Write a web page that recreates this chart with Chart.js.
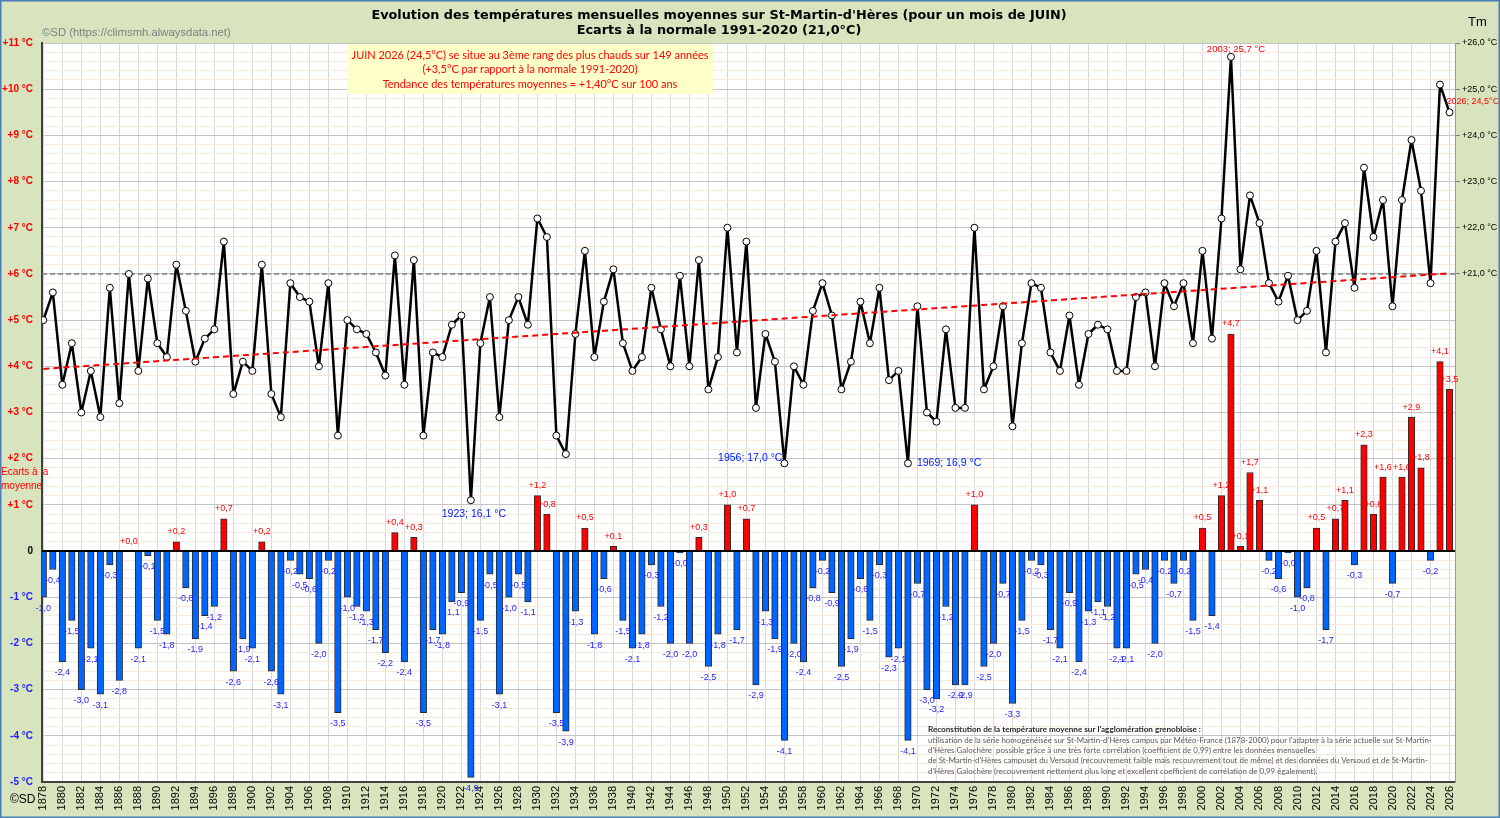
<!DOCTYPE html>
<html lang="fr">
<head>
<meta charset="utf-8">
<title>Températures de juin - St-Martin-d'Hères</title>
<script src="https://cdn.jsdelivr.net/npm/chart.js@4.4.1/dist/chart.umd.min.js"></script>
<style>
  html, body { margin: 0; padding: 0; background: #d7e4bd; }
  #wrap { position: relative; width: 1500px; height: 818px; }
</style>
</head>
<body>
<div id="wrap"><canvas id="chart"></canvas></div>
<script>
// Ecarts à la normale 1991-2020 (21,0 °C), mois de juin, 1878 -> 2026
const FIRST_YEAR = 1878;
const NORMAL = 21.0;
const anomalies = [
  -1.0, -0.4, -2.4, -1.5, -3.0, -2.1, -3.1, -0.3, -2.8,  0.0,   // 1878-1887
  -2.1, -0.1, -1.5, -1.8,  0.2, -0.8, -1.9, -1.4, -1.2,  0.7,   // 1888-1897
  -2.6, -1.9, -2.1,  0.2, -2.6, -3.1, -0.2, -0.5, -0.6, -2.0,   // 1898-1907
  -0.2, -3.5, -1.0, -1.2, -1.3, -1.7, -2.2,  0.4, -2.4,  0.3,   // 1908-1917
  -3.5, -1.7, -1.8, -1.1, -0.9, -4.9, -1.5, -0.5, -3.1, -1.0,   // 1918-1927
  -0.5, -1.1,  1.2,  0.8, -3.5, -3.9, -1.3,  0.5, -1.8, -0.6,   // 1928-1937
   0.1, -1.5, -2.1, -1.8, -0.3, -1.2, -2.0, -0.04, -2.0, 0.3,   // 1938-1947
  -2.5, -1.8,  1.0, -1.7,  0.7, -2.9, -1.3, -1.9, -4.1, -2.0,   // 1948-1957
  -2.4, -0.8, -0.2, -0.9, -2.5, -1.9, -0.6, -1.5, -0.3, -2.3,   // 1958-1967
  -2.1, -4.1, -0.7, -3.0, -3.2, -1.2, -2.9, -2.9,  1.0, -2.5,   // 1968-1977
  -2.0, -0.7, -3.3, -1.5, -0.2, -0.3, -1.7, -2.1, -0.9, -2.4,   // 1978-1987
  -1.3, -1.1, -1.2, -2.1, -2.1, -0.5, -0.4, -2.0, -0.2, -0.7,   // 1988-1997
  -0.2, -1.5,  0.5, -1.4,  1.2,  4.7,  0.1,  1.7,  1.1, -0.2,   // 1998-2007
  -0.6, -0.04, -1.0, -0.8, 0.5, -1.7,  0.7,  1.1, -0.3,  2.3,   // 2008-2017
   0.8,  1.6, -0.7,  1.6,  2.9,  1.8, -0.2,  4.1,  3.5          // 2018-2026
];
const years = anomalies.map((_, i) => FIRST_YEAR + i);
const tm = anomalies.map(a => +(NORMAL + a).toFixed(2));

const highlights = [
  { year: 2003, text: "2003; 25,7 °C", color: "#ff0000", align: "center", dx: 5, dy: -7, size: 9.5 },
  { year: 2026, text: "2026; 24,5°C", color: "#ff0000", align: "left", dx: -3, dy: -11, size: 9 },
  { year: 1923, text: "1923; 16,1 °C", color: "#0020ff", align: "center", dx: 3, dy: 14, size: 10.5 },
  { year: 1956, text: "1956; 17,0 °C", color: "#0020ff", align: "right", dx: -2, dy: -5, size: 10.5 },
  { year: 1969, text: "1969; 16,9 °C", color: "#0020ff", align: "left", dx: 9, dy: 0, size: 10.5 }
];

const titleLines = [
  "Evolution des températures mensuelles moyennes sur St-Martin-d'Hères (pour un mois de JUIN)",
  "Ecarts à la normale 1991-2020 (21,0°C)"
];
const boxLines = [
  "JUIN 2026 (24,5°C) se situe au 3ème rang des plus chauds sur 149 années",
  "(+3,5°C par rapport à la normale 1991-2020)",
  "Tendance des températures moyennes = +1,40°C sur 100 ans"
];
const noteTitle = "Reconstitution de la température moyenne sur l'agglomération grenobloise :";
const noteLines = [
  "utilisation de la série homogénéisée sur St-Martin-d'Hères campus par Météo-France (1878-2000) pour l'adapter à la série actuelle sur St-Martin-",
  "d'Hères Galochère  possible grâce à une très forte corrélation (coefficient de 0,99) entre les données mensuelles",
  "de St-Martin-d'Hères campuset du Versoud (recouvrement faible mais recouvrement tout de même) et des données du Versoud et de St-Martin-",
  "d'Hères Galochère (recouvrement nettement plus long et excellent coefficient de corrélation de 0,99 également)."
];

const RED = "#ff0000", BLUE = "#0066ff", LABEL_BLUE = "#1f1fff";
const X_MIN = 1877.86, X_MAX = 2026.58;

// droite de tendance (moindres carrés sur Tm)
const mx = years.reduce((s, v) => s + v, 0) / years.length;
const my = tm.reduce((s, v) => s + v, 0) / tm.length;
let sxy = 0, sxx = 0;
years.forEach((y, i) => { sxy += (y - mx) * (tm[i] - my); sxx += (y - mx) ** 2; });
const slope = sxy / sxx, icpt = my - slope * mx;
const trend = [years[0], years[years.length - 1]].map(y => ({ x: y, y: icpt + slope * y }));

const fmt = v => (v >= 0 ? "+" : "-") + Math.abs(v).toFixed(1).replace(".", ",");

function fitSize(ctx, text, width, weight, family) {
  ctx.font = `${weight} 20px ${family}`;
  return 20 * width / ctx.measureText(text).width;
}

const decor = {
  id: "decor",
  beforeDraw(chart) {
    const { ctx, chartArea: a } = chart;
    ctx.save();
    ctx.fillStyle = "#d7e4bd";
    ctx.fillRect(0, 0, chart.width, chart.height);
    ctx.fillStyle = "#ffffff";
    ctx.fillRect(a.left, a.top, a.right - a.left, a.bottom - a.top);
    ctx.restore();
  },
  afterDatasetsDraw(chart) {
    const { ctx, chartArea: a, scales } = chart;
    ctx.save();
    // ligne du zéro
    const y0 = scales.y.getPixelForValue(0);
    ctx.strokeStyle = "#000";
    ctx.lineWidth = 2;
    ctx.beginPath(); ctx.moveTo(a.left, y0); ctx.lineTo(a.right, y0); ctx.stroke();

    // étiquettes des barres
    ctx.font = "9px 'Liberation Sans', Arial, sans-serif";
    ctx.textAlign = "center";
    ctx.textBaseline = "middle";
    chart.getDatasetMeta(0).data.forEach((bar, i) => {
      const v = anomalies[i];
      ctx.fillStyle = v >= 0 ? RED : LABEL_BLUE;
      ctx.fillText(fmt(v), bar.x, v >= 0 ? bar.y - 10 : bar.y + 11);
    });

    // records
    highlights.forEach(h => {
      const i = years.indexOf(h.year);
      const x = scales.x.getPixelForValue(h.year);
      const y = scales.y2.getPixelForValue(tm[i]);
      ctx.font = `${h.size}px 'Liberation Sans', Arial, sans-serif`;
      ctx.fillStyle = h.color;
      ctx.textAlign = h.align;
      ctx.fillText(h.text, x + h.dx, y + h.dy);
    });
    ctx.restore();
  },
  afterDraw(chart) {
    const { ctx } = chart;
    ctx.save();
    ctx.textBaseline = "middle";

    // titre
    const tFam = "'DejaVu Sans', sans-serif";
    const tSize = fitSize(ctx, titleLines[0], 696, "bold", tFam);
    ctx.font = `bold ${tSize}px ${tFam}`;
    ctx.fillStyle = "#000";
    ctx.textAlign = "center";
    ctx.fillText(titleLines[0], 719, 16);
    ctx.fillText(titleLines[1], 719, 31);

    // copyright
    const cFam = "'Liberation Sans', Arial, sans-serif";
    ctx.font = `${fitSize(ctx, "©SD (https://climsmh.alwaysdata.net)", 189, "normal", cFam)}px ${cFam}`;
    ctx.fillStyle = "#808080";
    ctx.textAlign = "left";
    ctx.fillText("©SD (https://climsmh.alwaysdata.net)", 42, 33);
    ctx.font = `12px ${cFam}`;
    ctx.fillStyle = "#000";
    ctx.fillText("©SD", 10, 800);
    ctx.font = `13px ${cFam}`;
    ctx.fillText("Tm", 1468, 22);

    // libellé de l'axe gauche
    ctx.font = `10px ${cFam}`;
    ctx.fillStyle = RED;
    ctx.fillText("Ecarts à la", 1, 472);
    ctx.fillText("moyenne", 1, 486);

    // encadré
    ctx.fillStyle = "#ffffc9";
    ctx.fillRect(347, 44, 366, 50);
    const bFam = "Lato, sans-serif";
    ctx.font = `${fitSize(ctx, boxLines[0], 357, "normal", bFam)}px ${bFam}`;
    ctx.fillStyle = RED;
    ctx.textAlign = "center";
    boxLines.forEach((t, k) => ctx.fillText(t, 530, 55 + k * 14.5));

    // note de bas de graphique
    const nFam = "Lato, sans-serif";
    ctx.textAlign = "left";
    ctx.font = `bold ${fitSize(ctx, noteTitle, 273, "bold", nFam)}px ${nFam}`;
    ctx.fillStyle = "#262626";
    ctx.fillText(noteTitle, 928, 729);
    ctx.font = `${fitSize(ctx, noteLines[0], 504, "normal", nFam)}px ${nFam}`;
    ctx.fillStyle = "#595959";
    noteLines.forEach((t, k) => ctx.fillText(t, 928, 740 + k * 10.4));

    // cadre extérieur
    ctx.strokeStyle = "#4a7ebb";
    ctx.lineWidth = 1.5;
    ctx.strokeRect(0.75, 0.75, chart.width - 1.5, chart.height - 1.5);
    ctx.restore();
  }
};

const yTicks = [];
for (let k = -25; k <= 55; k++) yTicks.push({ value: k / 5 });
const xTicks = years.filter(y => y % 2 === 0).map(y => ({ value: y }));
const y2Ticks = [21, 22, 23, 24, 25, 26].map(v => ({ value: v }));

new Chart(document.getElementById("chart"), {
  data: {
    datasets: [
      {
        type: "bar",
        data: years.map((y, i) => ({ x: y, y: anomalies[i] })),
        yAxisID: "y",
        backgroundColor: anomalies.map(a => a >= 0 ? RED : BLUE),
        borderColor: "#2a2a2a",
        borderWidth: 1,
        barThickness: 6.5,
        order: 10
      },
      {
        type: "line",
        data: [{ x: X_MIN, y: NORMAL }, { x: X_MAX, y: NORMAL }],
        yAxisID: "y2",
        borderColor: "#808080",
        borderWidth: 1.5,
        borderDash: [5, 3],
        pointRadius: 0,
        order: 5
      },
      {
        type: "line",
        data: years.map((y, i) => ({ x: y, y: tm[i] })),
        yAxisID: "y2",
        borderColor: "#000",
        borderWidth: 2.5,
        borderJoinStyle: "round",
        borderCapStyle: "round",
        pointRadius: 3.5,
        pointBorderWidth: 1,
        pointBackgroundColor: "#fff",
        pointBorderColor: "#000",
        tension: 0,
        order: 2
      },
      {
        type: "line",
        data: trend,
        yAxisID: "y2",
        borderColor: RED,
        borderWidth: 2,
        borderDash: [6, 4],
        pointRadius: 0,
        order: 1
      }
    ]
  },
  options: {
    responsive: true,
    maintainAspectRatio: false,
    animation: false,
    layout: { padding: { top: 43, left: 0, right: 0, bottom: 0 } },
    plugins: { legend: { display: false }, tooltip: { enabled: false } },
    scales: {
      x: {
        type: "linear",
        position: "bottom",
        offset: false,
        min: X_MIN,
        max: X_MAX,
        afterBuildTicks: s => { s.ticks = xTicks.map(t => ({ ...t })); },
        afterFit: s => { s.height = 36; },
        ticks: {
          autoSkip: false, maxRotation: 90, minRotation: 90, padding: 4,
          color: "#000",
          font: { family: "'Liberation Sans', Arial, sans-serif", size: 11 },
          callback: v => String(v)
        },
        grid: { color: "#d9d9d9", drawTicks: false, offset: false },
        border: { color: "#404040", width: 2 }
      },
      y: {
        position: "left",
        min: -5,
        max: 11,
        afterBuildTicks: s => { s.ticks = yTicks.map(t => ({ ...t })); },
        afterFit: s => { s.width = 42; },
        ticks: {
          autoSkip: false, padding: 9,
          font: { family: "'Liberation Sans', Arial, sans-serif", size: 10, weight: "bold" },
          color: c => c.tick.value > 0 ? RED : (c.tick.value < 0 ? LABEL_BLUE : "#000"),
          callback: v => {
            if (Math.abs(v - Math.round(v)) > 1e-6) return "";
            const r = Math.round(v);
            return r === 0 ? "0" : (r > 0 ? "+" : "") + r + " °C";
          }
        },
        grid: {
          drawTicks: false,
          color: c => Math.abs(c.tick.value - Math.round(c.tick.value)) < 1e-6 ? "#c4c4c4" : "#fbe8dc"
        },
        border: { color: "#404040", width: 2 }
      },
      y2: {
        position: "right",
        min: 10,
        max: 26,
        afterBuildTicks: s => { s.ticks = y2Ticks.map(t => ({ ...t })); },
        afterFit: s => { s.width = 45; },
        ticks: {
          autoSkip: false, padding: 2, color: "#000",
          font: { family: "'Liberation Sans', Arial, sans-serif", size: 9 },
          callback: v => "+" + v.toFixed(1).replace(".", ",") + " °C"
        },
        grid: { drawOnChartArea: false, drawTicks: true, tickLength: 5, tickColor: "#808080" },
        border: { color: "#9a9a9a", width: 1 }
      }
    }
  },
  plugins: [decor]
});
</script>
</body>
</html>
